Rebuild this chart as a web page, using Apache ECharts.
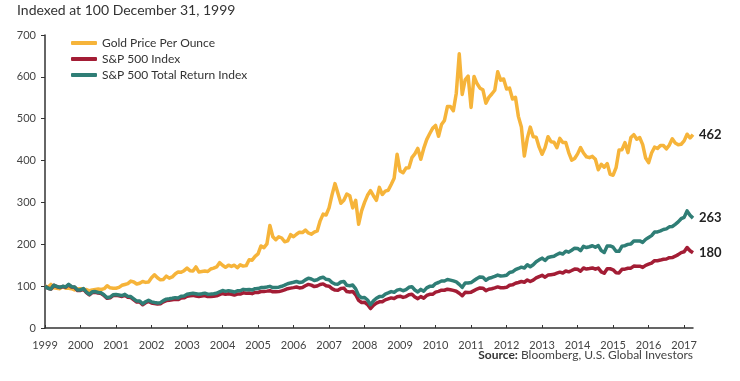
<!DOCTYPE html>
<html>
<head>
<meta charset="utf-8">
<script src="https://cdn.jsdelivr.net/npm/echarts@6/dist/echarts.min.js"></script>
<style>
html,body{margin:0;padding:0;background:#fff;}
#chart{width:740px;height:381px;}
</style>
</head>
<body>
<div id="chart"></div>
<script>
// ---- data (indexed at 100, monthly, x axis in chart's year units) ----
const startYear = 1999;
const seriesNames = ['Gold Price Per Ounce', 'S&P 500 Index', 'S&P 500 Total Return Index'];
const endLabels = ['462', '180', '263'];
const yTicks = [0, 100, 200, 300, 400, 500, 600, 700];
const xYears = [1999,2000,2001,2002,2003,2004,2005,2006,2007,2008,2009,2010,2011,2012,2013,2014,2015,2016,2017];

const gold = [100,
 97.5,104,96,95,94,99,95,95,94,91,93,94,
 91,92,89,91,92,93,92,94,101,96,95,95,
 97,102,104,106,112,110,105,107,111,109,110,120,
 127,120,115,116,124,119,122,129,134,133,137,143,
 137,136,146,134,135,136,135,141,143,146,156,150,
 145,150,147,150,144,151,148,149,163,162,171,177,
 196,192,201,245,218,211,218,215,206,208,223,218,
 224,229,228,234,227,224,229,232,256,272,270,287,
 318,345,322,298,305,320,316,287,305,248,280,300,
 317,328,316,305,336,319,327,329,343,358,415,375,
 371,382,383,407,416,429,403,429,450,464,477,484,
 458,486,496,529,529,519,561,655,558,593,602,527,
 601,584,573,569,537,551,559,568,612,592,595,571,
 573,547,551,505,480,411,453,480,457,456,432,415,
 431,457,445,444,431,453,443,443,419,401,405,416,
 431,418,409,407,410,403,378,391,384,393,367,365,
 383,425,426,443,419,455,462,451,455,438,406,395,
 418,432,429,436,436,428,437,452,442,438,439,447,
 463,454,462];

const sp500 = [100,
 94.9,93.0,102.0,98.8,96.7,99.0,97.4,103.3,97.8,97.3,89.5,89.8,
 93.0,84.4,79.0,85.0,85.5,83.3,82.4,77.2,70.8,72.2,77.5,78.1,
 76.9,75.3,78.1,73.3,72.6,67.4,62.1,62.3,55.5,60.3,63.7,59.9,
 58.3,57.2,57.7,62.4,65.6,66.4,67.4,68.6,67.8,71.5,72.0,75.7,
 77.0,77.9,76.6,75.3,76.3,77.6,75.0,75.1,75.9,76.9,79.9,82.5,
 80.4,81.9,80.4,78.7,81.1,81.0,84.0,83.0,83.6,82.1,85.0,84.9,
 87.1,87.2,88.1,89.2,86.4,86.4,86.9,88.7,90.9,93.8,95.3,96.5,
 97.9,95.7,96.7,100.9,104.2,102.3,99.0,100.3,103.9,105.4,100.8,99.9,
 93.9,90.6,90.0,94.3,95.3,87.1,86.2,87.3,79.4,65.9,61.0,61.5,
 56.2,46.5,54.3,59.4,62.6,62.6,67.2,69.5,71.9,70.5,74.6,75.9,
 73.1,75.1,79.6,80.8,74.1,70.2,75.0,71.4,77.7,80.6,80.4,85.6,
 87.5,90.3,90.2,92.8,91.5,89.9,87.9,83.0,77.0,85.3,84.9,85.6,
 89.3,93.0,95.8,95.1,89.2,92.7,93.9,95.8,98.1,96.1,96.4,97.1,
 102.0,103.1,106.8,108.8,111.0,109.3,114.8,111.1,114.5,119.6,122.9,125.8,
 121.4,126.5,127.4,128.2,131.0,133.4,131.4,136.3,134.2,137.4,140.8,140.1,
 135.8,143.3,140.8,142.0,143.4,140.4,143.2,134.2,130.7,141.5,141.6,139.1,
 132.0,131.5,140.2,140.6,142.7,142.9,148.0,147.8,147.6,144.7,149.7,152.4,
 155.1,160.9,160.8,162.3,164.2,164.9,168.1,168.3,171.5,175.3,180.2,182.0,
 192.2,184.7,179.8];

const sp500TR = [100,
 95.0,93.2,102.3,99.2,97.2,99.6,98.1,104.1,98.6,98.2,90.5,90.9,
 94.2,85.6,80.2,86.4,87.0,84.8,84.0,78.8,72.4,73.9,79.4,80.1,
 79.0,77.4,80.4,75.6,75.0,69.7,64.3,64.6,57.7,62.7,66.4,62.5,
 60.9,59.9,60.5,65.5,69.0,69.9,71.1,72.5,71.7,75.8,76.5,80.5,
 82.0,83.1,81.9,80.6,81.8,83.3,80.7,81.0,81.9,83.1,86.5,89.5,
 87.4,89.2,87.7,86.0,88.8,88.9,92.3,91.3,92.1,90.6,94.0,94.1,
 96.7,97.0,98.1,99.5,96.6,96.8,97.5,99.7,102.4,105.8,107.7,109.2,
 111.0,108.7,110.0,115.0,119.0,117.0,113.5,115.1,119.5,121.4,116.3,115.5,
 108.7,105.1,104.7,109.9,111.3,101.9,101.1,102.6,93.5,77.8,72.2,72.9,
 66.8,55.5,64.8,71.0,75.0,75.1,80.8,83.7,86.9,85.3,90.5,92.2,
 89.0,91.5,97.2,98.8,90.8,86.1,92.2,87.9,95.8,99.5,99.5,106.1,
 108.7,112.3,112.4,115.8,114.4,112.6,110.3,104.3,97.0,107.6,107.4,108.5,
 113.4,118.3,122.1,121.4,114.2,118.8,120.7,123.3,126.5,124.2,124.8,125.9,
 132.6,134.2,139.4,142.2,145.4,143.4,151.0,146.3,151.1,158.1,162.8,166.9,
 161.5,168.5,170.1,171.4,175.5,179.0,176.7,183.6,181.2,185.8,190.8,190.1,
 184.7,195.2,192.2,194.1,196.5,192.8,196.9,184.9,180.4,195.7,196.1,193.1,
 183.5,183.2,195.6,196.6,199.8,200.5,207.9,208.1,208.1,204.5,211.8,216.4,
 220.7,229.3,229.6,232.1,235.3,236.8,241.7,242.5,247.6,253.5,261.1,264.3,
 279.7,269.3,262.5];

// ---- build ----
const months = gold.map((_, i) => startYear + i / 12);
const lastX = months[months.length - 1];
const pair = arr => arr.map((v, i) => [months[i], v]);

const colors = ['#F6B43A', '#A31D35', '#2F7E76'];
const FONT = 'Lato, "Open Sans", sans-serif';

const chart = echarts.init(document.getElementById('chart'), null, {renderer: 'canvas'});
const mk = (name, data, idx) => ({
  name: name, type: 'line', data: data, showSymbol: false, symbol: 'none',
  animation: false,
  lineStyle: {color: colors[idx], width: 3.5, join: 'round'},
  itemStyle: {color: colors[idx]},
  endLabel: {
    show: true, distance: 6,
    formatter: () => endLabels[idx],
    color: '#222', fontSize: 13, fontWeight: 'bold', fontFamily: FONT
  }
});

chart.setOption({
  animation: false,
  backgroundColor: '#fff',
  grid: {left: 45, right: 740 - 693, top: 35, bottom: 53, containLabel: false},
  legend: {
    orient: 'vertical', left: 66, top: 32,
    icon: 'roundRect', itemWidth: 26, itemHeight: 4, itemGap: 4,
    textStyle: {fontFamily: FONT, fontSize: 12, color: '#333', lineHeight: 12},
    data: seriesNames
  },
  xAxis: {
    type: 'value', min: startYear, max: lastX, interval: 1,
    axisLine: {lineStyle: {color: '#333', width: 1.5}},
    axisTick: {show: true, inside: true, length: 3, lineStyle: {color: '#333'}},
    axisLabel: {
      margin: 12, color: '#444', fontSize: 11, fontFamily: FONT,
      showMaxLabel: false,
      formatter: v => (xYears.indexOf(Math.round(v)) >= 0 && Math.abs(v - Math.round(v)) < 1e-6) ? String(Math.round(v)) : ''
    },
    splitLine: {show: false}
  },
  yAxis: {
    type: 'value', min: yTicks[0], max: yTicks[yTicks.length - 1], interval: 100,
    axisLine: {show: true, lineStyle: {color: '#333', width: 1.5}},
    axisTick: {show: true, length: 4, lineStyle: {color: '#333'}},
    axisLabel: {margin: 9, color: '#444', fontSize: 11, fontFamily: FONT},
    splitLine: {show: false}
  },
  graphic: [
    {type: 'text', left: 17, top: 3,
     style: {text: 'Indexed at 100 December 31, 1999', fontSize: 14, fontFamily: FONT, fill: '#333'}},
    {type: 'text', right: 47, top: 349,
     style: {
       text: '{b|Source:} Bloomberg, U.S. Global Investors',
       fontSize: 12, fontFamily: FONT, fill: '#444',
       rich: {b: {fontWeight: 'bold', fontSize: 12, fontFamily: FONT, fill: '#333'}}
     }}
  ],
  series: [
    mk(seriesNames[0], pair(gold), 0),
    mk(seriesNames[1], pair(sp500), 1),
    mk(seriesNames[2], pair(sp500TR), 2)
  ]
});
</script>
</body>
</html>
